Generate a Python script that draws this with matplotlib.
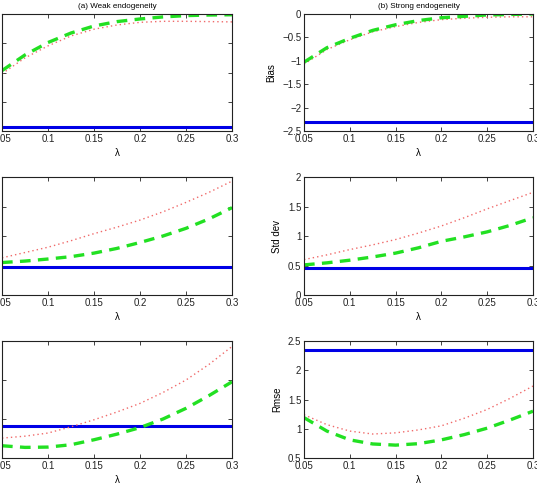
import matplotlib
matplotlib.use("Agg")
import matplotlib.pyplot as plt

plt.rcParams["font.family"] = ["Liberation Sans", "DejaVu Sans"]

LAM = [0.05, 0.075, 0.1, 0.125, 0.15, 0.175, 0.2, 0.225, 0.25, 0.275, 0.3]

# bias
BIAS_WEAK_GREEN = [-0.387, -0.28, -0.195, -0.13, -0.082, -0.052, -0.034, -0.02, -0.011, -0.007, -0.005]
BIAS_WEAK_RED = [-0.408, -0.30, -0.218, -0.15, -0.104, -0.075, -0.057, -0.05, -0.05, -0.052, -0.054]
BIAS_WEAK_BLUE = -0.775
BIAS_STRONG_GREEN = [-1.03, -0.72, -0.52, -0.35, -0.23, -0.14, -0.08, -0.05, -0.02, -0.01, 0.0]
BIAS_STRONG_RED = [-1.07, -0.76, -0.55, -0.38, -0.27, -0.18, -0.12, -0.09, -0.07, -0.06, -0.06]
BIAS_STRONG_BLUE = -2.3

# std dev
SD_WEAK_GREEN = [0.55, 0.575, 0.61, 0.65, 0.71, 0.79, 0.89, 1.0, 1.13, 1.29, 1.48]
SD_WEAK_RED = [0.63, 0.72, 0.81, 0.92, 1.04, 1.15, 1.27, 1.41, 1.57, 1.74, 1.93]
SD_WEAK_BLUE = 0.48
SD_STRONG_GREEN = [0.51, 0.545, 0.59, 0.645, 0.71, 0.80, 0.91, 0.985, 1.07, 1.18, 1.31]
SD_STRONG_RED = [0.60, 0.68, 0.77, 0.85, 0.94, 1.05, 1.17, 1.31, 1.46, 1.60, 1.74]
SD_STRONG_BLUE = 0.46

# rmse
RMSE_WEAK_GREEN = [0.657, 0.636, 0.64, 0.67, 0.734, 0.806, 0.89, 1.0, 1.137, 1.30, 1.477]
RMSE_WEAK_RED = [0.755, 0.78, 0.82, 0.90, 0.99, 1.09, 1.20, 1.34, 1.50, 1.70, 1.93]
RMSE_WEAK_BLUE = 0.904
RMSE_STRONG_GREEN = [1.19, 0.96, 0.81, 0.74, 0.72, 0.745, 0.81, 0.90, 1.01, 1.15, 1.30]
RMSE_STRONG_RED = [1.24, 1.07, 0.96, 0.91, 0.93, 0.98, 1.05, 1.18, 1.33, 1.52, 1.73]
RMSE_STRONG_BLUE = 2.35

XTICKS = [0.05, 0.1, 0.15, 0.2, 0.25, 0.3]
XTICKLABELS = ["0.05", "0.1", "0.15", "0.2", "0.25", "0.3"]

W, H = 537, 493
COLS = [(2, 230), (304, 229)]          # left px, width px
ROWS = [(14, 131), (177, 295), (341, 458)]  # top px, bottom px

# (green, red, blue, ylim, yticks, yticklabels, ylabel, title)
# left column is cropped in the source picture: its y labels are not visible
PANELS = [
    [(BIAS_WEAK_GREEN, BIAS_WEAK_RED, BIAS_WEAK_BLUE, (-0.8, 0), [-0.8, -0.6, -0.4, -0.2, 0],
      None, None, "(a) Weak endogeneity"),
     (BIAS_STRONG_GREEN, BIAS_STRONG_RED, BIAS_STRONG_BLUE, (-2.5, 0), [-2.5, -2, -1.5, -1, -0.5, 0],
      ["\u22122.5", "\u22122", "\u22121.5", "\u22121", "\u22120.5", "0"], "Bias", "(b) Strong endogeneity")],
    [(SD_WEAK_GREEN, SD_WEAK_RED, SD_WEAK_BLUE, (0, 2), [0, 0.5, 1, 1.5, 2],
      None, None, None),
     (SD_STRONG_GREEN, SD_STRONG_RED, SD_STRONG_BLUE, (0, 2), [0, 0.5, 1, 1.5, 2],
      ["0", "0.5", "1", "1.5", "2"], "Std dev", None)],
    [(RMSE_WEAK_GREEN, RMSE_WEAK_RED, RMSE_WEAK_BLUE, (0.5, 2), [0.5, 1, 1.5, 2],
      None, None, None),
     (RMSE_STRONG_GREEN, RMSE_STRONG_RED, RMSE_STRONG_BLUE, (0.5, 2.5), [0.5, 1, 1.5, 2, 2.5],
      ["0.5", "1", "1.5", "2", "2.5"], "Rmse", None)],
]

fig = plt.figure(figsize=(W / 100, H / 100), dpi=100)

for r, (top, bot) in enumerate(ROWS):
    for c, (left, width) in enumerate(COLS):
        green, red, blue, ylim, yt, ytl, ylab, title = PANELS[r][c]
        ax = fig.add_axes([left / W, 1 - bot / H, width / W, (bot - top) / H])
        ax.plot(LAM, [blue] * len(LAM), color="#0000e6", lw=2.2, solid_capstyle="butt")
        ax.plot(LAM, red, color="#f06a6a", lw=1.0, ls=(0, (1, 2.2)))
        ax.plot(LAM, green, color="#22e022", lw=2.4, ls=(0, (3.2, 2.2)))
        ax.set_xlim(0.05, 0.3)
        ax.set_ylim(*ylim)
        ax.set_xticks(XTICKS)
        ax.set_xticklabels(XTICKLABELS)
        ax.set_yticks(yt)
        ax.set_yticklabels(ytl if ytl else [""] * len(yt))
        ax.tick_params(direction="in", top=True, right=True, labelsize=7,
                       length=3, width=0.6, pad=2, colors="#222222")
        for s in ax.spines.values():
            s.set_linewidth(0.8)
            s.set_color("#222222")
        ax.set_xlabel("\u03bb", fontsize=7, labelpad=3)
        if ylab:
            ax.set_ylabel(ylab, fontsize=7, labelpad=4)
        if title:
            ax.set_title(title, fontsize=5.8, pad=4)

fig.savefig("out.png", dpi=100)
